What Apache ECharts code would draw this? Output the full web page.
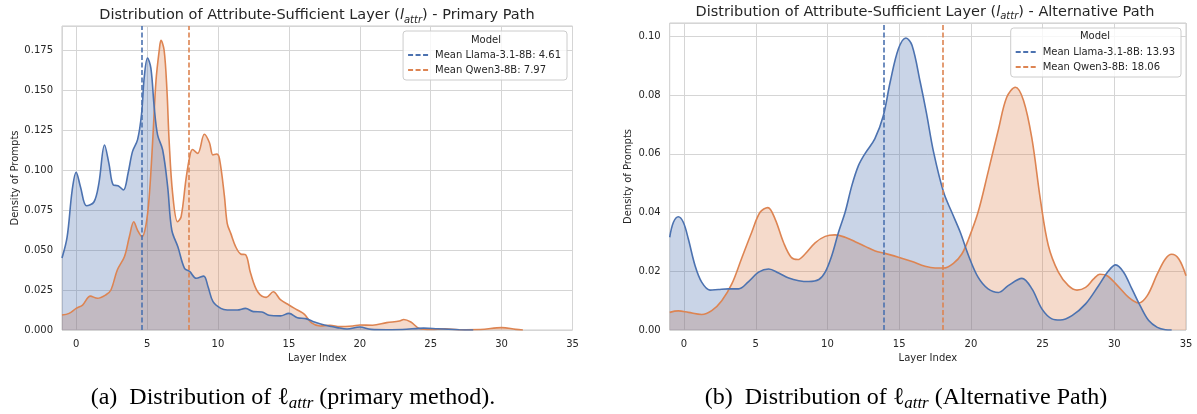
<!DOCTYPE html>
<html>
<head>
<meta charset="utf-8">
<script src="https://cdn.jsdelivr.net/npm/echarts@6/dist/echarts.min.js"></script>
<style>
html, body { margin: 0; padding: 0; background: #fff; }
#chart { width: 1197px; height: 414px; }
</style>
</head>
<body>
<div id="chart"></div>
<script>
// density curves (layer index -> density)
const leftLlamaX = [-1, -0.64, -0.28, 0, 0.3, 0.73, 1.25, 1.6, 2.0, 2.31, 2.62, 2.95, 3.33, 3.66, 3.97, 4.33, 4.61, 4.8, 5.03, 5.27, 5.5, 5.74, 6.1, 6.45, 6.74, 7.17, 7.64, 8.0, 8.47, 8.99, 9.3, 9.65, 10.2, 10.65, 11.36, 11.94, 12.5, 13.1, 13.6, 14.4, 15.0, 15.6, 16.2, 16.8, 17.5, 18.4, 19.1, 20.0, 20.8, 21.9, 23, 24.5, 25.5, 27, 28];
const leftLlamaY = [0.045, 0.058, 0.0875, 0.0985, 0.0896, 0.0777, 0.080, 0.0917, 0.1156, 0.104, 0.0906, 0.0902, 0.0875, 0.098, 0.1115, 0.119, 0.135, 0.158, 0.170, 0.1635, 0.1396, 0.122, 0.1125, 0.0896, 0.0625, 0.052, 0.0385, 0.0366, 0.0323, 0.0337, 0.027, 0.0177, 0.0135, 0.0125, 0.0125, 0.0135, 0.0115, 0.0113, 0.0092, 0.0088, 0.0104, 0.0077, 0.0071, 0.005, 0.0031, 0.0015, 0.0006, 0.0019, 0.0004, 0.0002, 0.0003, 0.0012, 0.0008, 0.0002, 0];

const leftQwenX = [-1, -0.5, 0, 0.45, 1.0, 1.5, 2.1, 2.45, 2.9, 3.4, 3.75, 4.06, 4.33, 4.64, 4.92, 5.15, 5.4, 5.63, 5.86, 5.98, 6.2, 6.4, 6.55, 6.8, 7.15, 7.4, 7.74, 8.0, 8.2, 8.57, 9.04, 9.4, 9.64, 9.9, 10.1, 10.45, 10.65, 10.9, 11.25, 11.6, 11.95, 12.3, 12.8, 13.4, 13.9, 14.4, 15.0, 15.6, 16.1, 16.6, 17.2, 17.9, 18.6, 19.5, 20.0, 20.9, 21.9, 22.8, 23.1, 23.6, 24.2, 25, 26, 27, 28.5, 30, 31, 31.5];
const leftQwenY = [0.0094, 0.0104, 0.0135, 0.0156, 0.0212, 0.0198, 0.022, 0.025, 0.0375, 0.0458, 0.0583, 0.0677, 0.0623, 0.0583, 0.0656, 0.0833, 0.119, 0.156, 0.175, 0.181, 0.175, 0.15, 0.119, 0.0854, 0.0677, 0.0708, 0.094, 0.108, 0.1128, 0.1104, 0.1223, 0.117, 0.1094, 0.110, 0.1073, 0.084, 0.0667, 0.0604, 0.052, 0.0475, 0.047, 0.0354, 0.0239, 0.0204, 0.0239, 0.019, 0.0156, 0.0125, 0.0098, 0.0044, 0.0025, 0.003, 0.0021, 0.0025, 0.0031, 0.003, 0.0046, 0.0056, 0.0066, 0.005, 0.001, 0.0003, 0.0008, 0.0002, 0.0003, 0.0015, 0.0004, 0];

const rightLlamaX = [-1, -0.74, -0.4, -0.05, 0.3, 0.77, 1.23, 1.81, 2.4, 3.1, 3.8, 4.5, 5.2, 5.9, 6.6, 7.3, 8.0, 8.7, 9.4, 9.84, 10.3, 10.77, 11.23, 11.7, 12.16, 12.63, 13.3, 13.9, 14.37, 14.95, 15.47, 15.9, 16.47, 16.9, 17.4, 18.1, 18.67, 19.26, 19.84, 20.5, 21.2, 21.93, 22.6, 23.56, 24.26, 24.95, 25.65, 26.23, 27.05, 28.0, 28.9, 29.6, 30.1, 30.65, 31.23, 31.8, 32.4, 33.0, 33.56, 34];
const rightLlamaY = [0.0316, 0.0367, 0.0386, 0.0367, 0.031, 0.0219, 0.0163, 0.0136, 0.0138, 0.014, 0.014, 0.0165, 0.0197, 0.0208, 0.0194, 0.0177, 0.0168, 0.0165, 0.0172, 0.0197, 0.0253, 0.0333, 0.0401, 0.0492, 0.056, 0.0602, 0.0651, 0.0731, 0.0844, 0.0958, 0.0995, 0.0969, 0.0844, 0.074, 0.0606, 0.0469, 0.0401, 0.0333, 0.0253, 0.018, 0.014, 0.0128, 0.0151, 0.0176, 0.014, 0.0072, 0.0038, 0.0034, 0.0049, 0.0089, 0.0151, 0.0202, 0.0222, 0.0197, 0.014, 0.0083, 0.0032, 0.0009, 0.0001, 0];

const rightQwenX = [-1, -0.4, 0.3, 1.23, 1.93, 2.63, 3.33, 4.0, 4.72, 5.3, 5.84, 6.35, 6.93, 7.47, 7.93, 8.44, 9.14, 9.84, 10.53, 11.23, 11.93, 12.63, 13.33, 14.0, 14.95, 15.9, 16.8, 17.5, 18.1, 18.8, 19.37, 19.84, 20.5, 21.2, 21.93, 22.5, 23.1, 23.67, 24.26, 24.84, 25.4, 26.1, 26.8, 27.4, 28.0, 28.56, 29.0, 29.5, 30.19, 31.0, 31.7, 32.3, 33.0, 33.56, 34.0, 34.5, 35];
const rightQwenY = [0.006, 0.0065, 0.006, 0.0053, 0.0066, 0.01, 0.0157, 0.0242, 0.0333, 0.0401, 0.0417, 0.0378, 0.0299, 0.0248, 0.024, 0.0259, 0.0297, 0.0319, 0.0324, 0.0316, 0.0301, 0.0285, 0.0269, 0.0261, 0.0248, 0.0233, 0.0217, 0.0211, 0.0211, 0.0228, 0.0259, 0.031, 0.0401, 0.0538, 0.0685, 0.0793, 0.0827, 0.0782, 0.0651, 0.0447, 0.0288, 0.0197, 0.0151, 0.0136, 0.0145, 0.0174, 0.019, 0.0185, 0.0153, 0.0111, 0.0092, 0.0117, 0.0191, 0.0242, 0.0258, 0.0242, 0.0185];

const models = ['Llama-3.1-8B', 'Qwen3-8B'];
const leftMeans = [4.61, 7.97];
const rightMeans = [13.93, 18.06];

const BLUE = '#4C72B0';
const ORANGE = '#DD8452';
const TXT = '#262626';
const FONT = 'DejaVu Sans';
const SERIF = 'Liberation Serif';

const pts = (xs, ys) => xs.map((x, i) => [x, ys[i]]);
const meanName = (i, v) => 'Mean ' + models[i] + ': ' + v.toFixed(2);

function kde(name, idx, color, xs, ys) {
  return {
    name: name, type: 'line', xAxisIndex: idx, yAxisIndex: idx,
    data: pts(xs, ys), smooth: 0.35, symbol: 'none', silent: true,
    lineStyle: { color: color, width: 1.6 },
    itemStyle: { color: color },
    areaStyle: { color: color, opacity: 0.3 }
  };
}

function meanLine(name, idx, color, value) {
  const ls = { color: color, width: 1.6, type: [5, 2.5] };
  return {
    name: name, type: 'line', xAxisIndex: idx, yAxisIndex: idx,
    data: [], symbol: 'none', lineStyle: ls, itemStyle: { color: color },
    markLine: { silent: true, symbol: 'none', label: { show: false }, lineStyle: ls, data: [{ xAxis: value }] }
  };
}

function xAx(idx) {
  return {
    gridIndex: idx, type: 'value', min: -1, max: 35, splitNumber: 7,
    axisLine: { show: false }, axisTick: { show: false },
    axisLabel: { showMinLabel: false, fontSize: 10, color: TXT, margin: 9, fontFamily: FONT },
    splitLine: { lineStyle: { color: '#d5d5d5', width: 1 } },
    name: 'Layer Index', nameLocation: 'middle', nameGap: 21,
    nameTextStyle: { fontSize: 10, color: TXT, fontFamily: FONT }
  };
}

function yAx(idx, max, interval, digits, gap) {
  return {
    gridIndex: idx, type: 'value', min: 0, max: max, interval: interval,
    axisLine: { show: false }, axisTick: { show: false },
    axisLabel: { showMaxLabel: false, fontSize: 10, color: TXT, margin: 9, fontFamily: FONT,
      formatter: v => v.toFixed(digits) },
    splitLine: { lineStyle: { color: '#d5d5d5', width: 1 } },
    name: 'Density of Prompts', nameLocation: 'middle', nameGap: gap,
    nameTextStyle: { fontSize: 10, color: TXT, fontFamily: FONT }
  };
}

function legend(names, pos) {
  return Object.assign({
    data: names, orient: 'vertical', align: 'left',
    itemWidth: 22, itemHeight: 10, itemGap: 3, itemTextGap: 7,
    padding: [18, 6, 4, 4],
    backgroundColor: 'rgba(255,255,255,0.8)', borderColor: '#cccccc', borderWidth: 1, borderRadius: 3,
    itemStyle: { opacity: 0, borderWidth: 0 },
    textStyle: { fontSize: 10, color: TXT, fontFamily: FONT, lineHeight: 12 },
    selectedMode: false
  }, pos);
}

const titleRich = {
  i: { fontSize: 14.5, fontStyle: 'italic', fontFamily: FONT, fill: TXT, lineHeight: 19 },
  s: { fontSize: 10, fontStyle: 'italic', fontFamily: FONT, fill: TXT, lineHeight: 11, verticalAlign: 'bottom' }
};
const capRich = {
  l: { fontSize: 24, fontFamily: SERIF, fill: '#000', lineHeight: 29 },
  s: { fontSize: 17, fontStyle: 'italic', fontFamily: SERIF, fill: '#000', lineHeight: 17, verticalAlign: 'bottom' }
};

function label(text, x, y, size, family, rich, color) {
  return {
    type: 'text', x: x, y: y, silent: true, z: 100,
    style: { text: text, align: 'center', verticalAlign: 'middle', fontSize: size, fontFamily: family,
      fill: color || TXT, lineHeight: rich ? Math.round(size * 1.2) : size + 2, rich: rich }
  };
}

const lNames = leftMeans.map((v, i) => meanName(i, v));
const rNames = rightMeans.map((v, i) => meanName(i, v));

const chart = echarts.init(document.getElementById('chart'));
chart.setOption({
  animation: false,
  backgroundColor: '#fff',
  grid: [
    { left: 62, top: 26, width: 510.5, height: 304, show: true, borderColor: '#cccccc', borderWidth: 1, outerBoundsMode: 'none' },
    { left: 669.7, top: 23, width: 516.3, height: 307, show: true, borderColor: '#cccccc', borderWidth: 1, outerBoundsMode: 'none' }
  ],
  xAxis: [xAx(0), xAx(1)],
  yAxis: [yAx(0, 0.19, 0.025, 3, 42), yAx(1, 0.1046, 0.02, 2, 36)],
  legend: [
    legend(lNames, { right: 630, top: 31 }),
    legend(rNames, { right: 16, top: 28 })
  ],
  graphic: [
    label('Distribution of Attribute-Sufficient Layer ({i|l}{s|attr}) - Primary Path', 317, 15.5, 14.5, FONT, titleRich),
    label('Distribution of Attribute-Sufficient Layer ({i|l}{s|attr}) - Alternative Path', 925, 12, 14.5, FONT, titleRich),
    label('Model', 486, 40, 10, FONT),
    label('Model', 1095, 36, 10, FONT),
    label('(a)  Distribution of {l|ℓ}{s|attr} (primary method).', 293, 398, 24, SERIF, capRich, '#000'),
    label('(b)  Distribution of {l|ℓ}{s|attr} (Alternative Path)', 906, 398, 24, SERIF, capRich, '#000')
  ],
  series: [
    kde('Qwen3-8B', 0, ORANGE, leftQwenX, leftQwenY),
    kde('Llama-3.1-8B', 0, BLUE, leftLlamaX, leftLlamaY),
    meanLine(lNames[0], 0, BLUE, leftMeans[0]),
    meanLine(lNames[1], 0, ORANGE, leftMeans[1]),
    kde('Qwen3-8B ', 1, ORANGE, rightQwenX, rightQwenY),
    kde('Llama-3.1-8B ', 1, BLUE, rightLlamaX, rightLlamaY),
    meanLine(rNames[0], 1, BLUE, rightMeans[0]),
    meanLine(rNames[1], 1, ORANGE, rightMeans[1])
  ]
});
</script>
</body>
</html>
